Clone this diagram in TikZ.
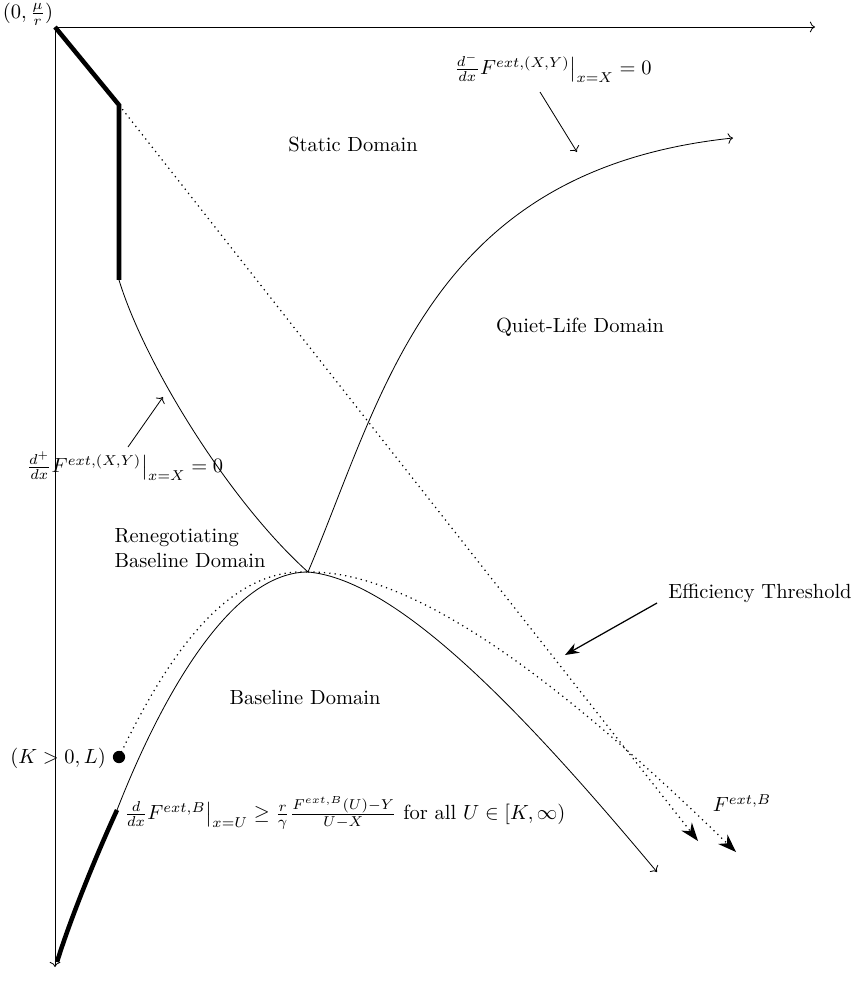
\documentclass[tikz,border=0pt]{standalone}
\usepackage{amsmath}
\usepackage{amssymb}
\usetikzlibrary{arrows.meta}

\begin{document}
\begin{tikzpicture}[x=0.488pt,y=-0.488pt,line width=0.4pt,
  bigtip/.style={-{Stealth[length=9pt,width=6.5pt]}},
  dots/.style={dotted,line width=0.6pt},
  thickseg/.style={line width=2.2pt}]
  \useasboundingbox (0,0) rectangle (854,987);
  % ejes
  \coordinate (O) at (55,27);
  \coordinate (xend) at (815,27);
  \coordinate (yend) at (55,967);
  \draw[->] (O) -- (xend);
  \draw[->] (O) -- (yend);
  \node (orig) at (28,14) {$(0,\frac{\mu}{r})$};
  % frontera gruesa superior
  \coordinate (A) at (119,105);
  \coordinate (B) at (119,280);
  \draw[thickseg] (O) -- (A) -- (B);
  % pico
  \coordinate (P) at (308,572);
  \draw (B) .. controls (145,365) and (230,502) .. (P);
  \draw[->] (P) .. controls (385,390) and (430,170) .. (733,138);
  % recta punteada
  \draw[dots,bigtip] (A) -- (698,841);
  % curva base
  \coordinate (C) at (117,810);
  \draw[thickseg] (57,962) .. controls (70,920) and (95,858) .. (C);
  \draw (C) .. controls (160,700) and (230,572) .. (P);
  \draw[->] (P) .. controls (400,580) and (530,720) .. (657,872);
  % umbral de eficiencia
  \fill (119,757) circle(3pt) coordinate (D);
  \draw[dots] (D) .. controls (170,650) and (230,568) .. (P);
  \draw[dots,bigtip] (P) .. controls (430,570) and (600,720) .. (736,852);
  % etiquetas
  \node (dminus) at (553,68) {$\frac{d^-}{dx}F^{ext,(X,Y)}\big|_{x=X}=0$};
  \coordinate (s1) at (540,92); \coordinate (t1) at (577,152);
  \draw[->] (s1) -- (t1);
  \node (static) at (353,145) {Static Domain};
  \node (quiet) at (580,327) {Quiet-Life Domain};
  \node (dplus) at (125,466) {$\frac{d^+}{dx}F^{ext,(X,Y)}\big|_{x=X}=0$};
  \coordinate (s2) at (128,447); \coordinate (t2) at (163,397);
  \draw[->] (s2) -- (t2);
  \node[align=left] (reneg) at (190,548) {Renegotiating\\Baseline Domain};
  \node (eff) at (760,593) {Efficiency Threshold};
  \coordinate (s3) at (657,603); \coordinate (t3) at (565,655);
  \draw[semithick,-{Stealth[length=2.4mm]}] (s3) -- (t3);
  \node (base) at (305,697) {Baseline Domain};
  \node[anchor=east] (kl) at (113,758) {$(K>0,L)$};
  \node (cond) at (345,813) {$\frac{d}{dx}F^{ext,B}\big|_{x=U}\geq\frac{r}{\gamma}\frac{F^{ext,B}(U)-Y}{U-X}$ for all $U\in[K,\infty)$};
  \node (fb) at (742,803) {$F^{ext,B}$};
\end{tikzpicture}
\end{document}
